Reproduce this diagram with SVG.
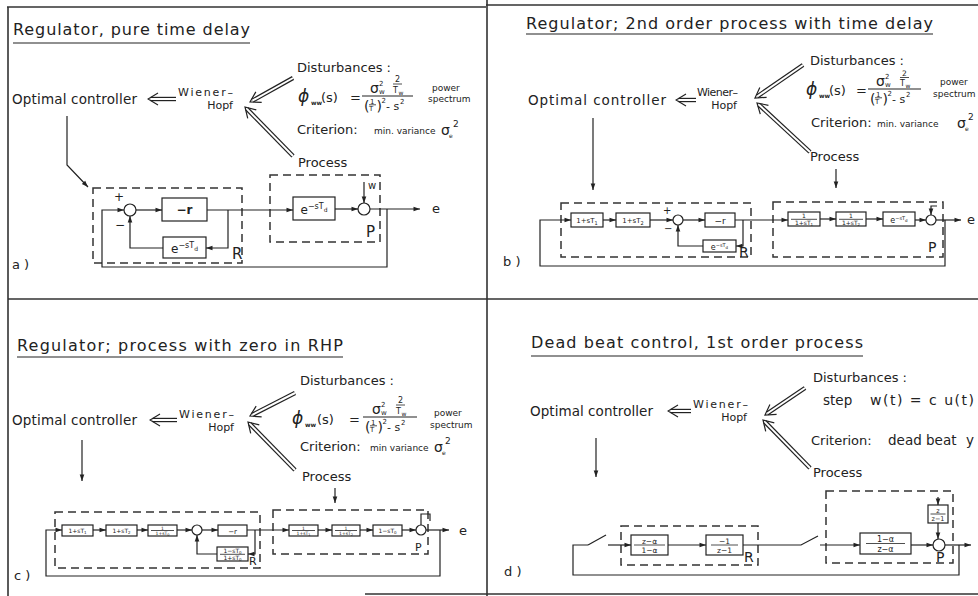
<svg xmlns="http://www.w3.org/2000/svg" width="978" height="596" viewBox="0 0 978 596">
<defs>
<style>
text{font-family:"DejaVu Sans","Liberation Sans",sans-serif;fill:#222}
.ln{stroke:#222;stroke-width:1.2;fill:none}
.thin{stroke:#222;stroke-width:0.8;fill:none}
.cn{stroke:#222;stroke-width:1.2;fill:none;marker-end:url(#ah)}
.dash{stroke:#333;stroke-width:1.5;fill:none;stroke-dasharray:8 5}
.box{stroke:#222;stroke-width:1.2;fill:#fff}
.dbo{stroke:#222;stroke-width:4.4;fill:none;marker-end:url(#open)}
.dbi{stroke:#fff;stroke-width:2;fill:none}
.fr{stroke:#333;stroke-width:1.6;fill:none}
.ttl{font-size:16px}
.lab{font-size:13px}
.oc{font-size:13.5px}
.wh{font-size:11px}
.sm{font-size:9px}
.big{font-size:15px}
.bt{font-size:7px}
.bt6{font-size:6px}
</style>
<marker id="ah" viewBox="-8 -4 9 8" markerWidth="9" markerHeight="8" refX="0" refY="0" orient="auto" markerUnits="userSpaceOnUse"><path d="M0,0 L-6.5,-2.3 L-6.5,2.3 z" fill="#222"/></marker>
<marker id="open" viewBox="-9 -7 13 14" markerWidth="13" markerHeight="14" refX="0" refY="0" orient="auto" markerUnits="userSpaceOnUse"><polyline points="-7.3,-6 2.7,0 -7.3,6" fill="none" stroke="#222" stroke-width="1.2"/></marker>
</defs>
<rect x="0" y="0" width="978" height="596" fill="#fff"/>

<g id="frame">
<path class="fr" d="M7,7 H486 M486,5 H978 M8,7 V596 M487,0 V596 M8,299 H978 M365,594 H978"/>
</g>

<!-- ===== Panel a ===== -->
<g id="a-title"><text class="ttl" x="13" y="35" textLength="237">Regulator, pure time delay</text><line class="ln" x1="13" y1="43" x2="250" y2="43"/></g>
<g id="a-controller"><text class="oc" x="12" y="104" textLength="125">Optimal controller</text></g>
<g id="a-wiener"><text class="wh" x="178" y="96" textLength="55">Wiener–</text><text class="wh" x="233" y="109" text-anchor="end">Hopf</text></g>
<g id="a-disturbances"><text class="lab" x="297" y="72">Disturbances :</text>
<g transform="translate(298,102)">
<text x="0" y="0" font-size="17" font-style="italic">ϕ</text>
<text x="13" y="3" font-size="6" font-weight="bold">ww</text>
<text x="23" y="0" font-size="13">(s)</text>
<text x="52" y="0" font-size="13">=</text>
<line class="ln" x1="64" y1="-6" x2="115" y2="-6"/>
<text x="72" y="-9" font-size="14">σ</text>
<text x="81" y="-16" font-size="7">2</text>
<text x="81" y="-8" font-size="7">w</text>
<text x="97" y="-20" font-size="8">2</text>
<line class="thin" x1="95" y1="-18" x2="104" y2="-18"/>
<text x="95" y="-9" font-size="8">T</text>
<text x="100.5" y="-7.5" font-size="6">w</text>
<text x="66" y="9" font-size="14">(</text>
<text x="72" y="1.5" font-size="7">1</text>
<line class="thin" x1="71" y1="2.8" x2="78" y2="2.8"/>
<text x="71" y="9" font-size="7">T</text>
<text x="78.5" y="9" font-size="14">)</text>
<text x="83.5" y="1" font-size="7">2</text>
<text x="88" y="8" font-size="11">- s</text>
<text x="102" y="2" font-size="7">2</text>
</g>
<text class="sm" x="432" y="91">power</text><text class="sm" x="428" y="102">spectrum</text>
</g>
<g id="a-criterion"><text class="lab" x="297" y="134">Criterion:</text><text class="sm" x="374" y="134">min. variance</text><text x="441" y="135" font-size="14">σ</text><text x="449" y="138" font-size="6">e</text><text x="453" y="127" font-size="9">2</text></g>
<g id="a-process"><text class="lab" x="298" y="167">Process</text></g>
<g id="a-R"><rect class="dash" x="93" y="188" width="149" height="75"/><text class="big" x="232" y="259">R</text></g>
<g id="a-sum1"><circle class="box" cx="130" cy="210" r="6"/><text x="114" y="201" font-size="12">+</text><text x="115" y="229" font-size="12">−</text></g>
<g id="a-gain"><rect class="box" x="162" y="198" width="45" height="23"/><text x="184.5" y="214" text-anchor="middle" font-size="12" font-weight="bold">−r</text></g>
<g id="a-delayR"><rect class="box" x="163" y="237" width="43" height="21"/><text x="184.5" y="253" text-anchor="middle" font-size="12">e<tspan font-size="8" dy="-5">−sT</tspan><tspan font-size="6" dy="3">d</tspan></text></g>
<g id="a-P"><rect class="dash" x="270" y="175" width="110" height="67"/><text class="big" x="366" y="237">P</text></g>
<g id="a-delayP"><rect class="box" x="293" y="197" width="42" height="23"/><text x="314" y="214" text-anchor="middle" font-size="12">e<tspan font-size="8" dy="-5">−sT</tspan><tspan font-size="6" dy="3">d</tspan></text></g>
<g id="a-sum2"><circle class="box" cx="364" cy="209" r="6"/><text x="368" y="189" font-size="10">w</text></g>
<g id="a-out"><text x="432" y="213" font-size="13">e</text></g>
<g id="a-label"><text x="12" y="269" font-size="13">a )</text></g>

<!-- ===== Panel b ===== -->
<g id="b-title"><text class="ttl" x="526" y="29" textLength="407">Regulator; 2nd order process with time delay</text><line class="ln" x1="526" y1="34" x2="933" y2="34"/></g>
<g id="b-controller"><text class="oc" x="528" y="105" textLength="138">Optimal controller</text></g>
<g id="b-wiener"><text class="wh" x="697" y="96" textLength="41">Wiener–</text><text class="wh" x="737" y="109" text-anchor="end">Hopf</text></g>
<g id="b-disturbances"><text class="lab" x="810" y="65">Disturbances :</text>
<g transform="translate(806,95)">
<text x="0" y="0" font-size="17" font-style="italic">ϕ</text>
<text x="13" y="3" font-size="6" font-weight="bold">ww</text>
<text x="23" y="0" font-size="13">(s)</text>
<text x="50" y="0" font-size="13">=</text>
<line class="ln" x1="62" y1="-6" x2="115" y2="-6"/>
<text x="70" y="-9" font-size="14">σ</text>
<text x="79" y="-16" font-size="7">2</text>
<text x="79" y="-8" font-size="7">w</text>
<text x="96" y="-19" font-size="7.5">2</text>
<line class="thin" x1="94" y1="-17.5" x2="103" y2="-17.5"/>
<text x="94" y="-9" font-size="8">T</text>
<text x="99.5" y="-7.5" font-size="6">w</text>
<text x="64" y="9" font-size="14">(</text>
<text x="70" y="1.5" font-size="7">1</text>
<line class="thin" x1="69" y1="2.8" x2="76" y2="2.8"/>
<text x="69" y="9" font-size="7">T</text>
<text x="76.5" y="9" font-size="14">)</text>
<text x="81.5" y="1" font-size="7">2</text>
<text x="86" y="8" font-size="11">- s</text>
<text x="100" y="2" font-size="7">2</text>
</g>
<text class="sm" x="940" y="85">power</text><text class="sm" x="933" y="97">spectrum</text>
</g>
<g id="b-criterion"><text class="lab" x="811" y="127">Criterion:</text><text class="sm" x="877" y="127">min. variance</text><text x="957" y="128" font-size="14">σ</text><text x="965" y="131" font-size="6">e</text><text x="968" y="120" font-size="9">2</text></g>
<g id="b-process"><text class="lab" x="810" y="161">Process</text></g>
<g id="b-R"><rect class="dash" x="561" y="203" width="190" height="54"/><text x="739" y="257" font-size="14">R</text></g>
<g id="b-lead1"><rect class="box" x="571" y="213" width="32" height="14"/><text class="bt" x="587" y="223" text-anchor="middle">1+sT<tspan font-size="5" dy="1.5">1</tspan></text></g>
<g id="b-lead2"><rect class="box" x="616" y="213" width="34" height="14"/><text class="bt" x="633" y="223" text-anchor="middle">1+sT<tspan font-size="5" dy="1.5">2</tspan></text></g>
<g id="b-sum1"><circle class="box" cx="678" cy="220" r="5"/><text x="663" y="214" font-size="10">+</text><text x="664" y="232" font-size="10">−</text></g>
<g id="b-gain"><rect class="box" x="705" y="213" width="30" height="14"/><text x="720" y="224" text-anchor="middle" font-size="9">−r</text></g>
<g id="b-delayR"><rect class="box" x="703" y="240" width="33" height="12"/><text x="719.5" y="249.5" text-anchor="middle" font-size="8">e<tspan font-size="5" dy="-3">−sT</tspan><tspan font-size="4" dy="2">d</tspan></text></g>
<g id="b-P"><rect class="dash" x="773" y="202" width="170" height="55"/><text x="928" y="252" font-size="14">P</text></g>
<g id="b-lag1"><rect class="box" x="788" y="212" width="32" height="14"/><text class="bt6" x="804" y="218" text-anchor="middle">1</text><line class="thin" x1="791" y1="219.3" x2="817" y2="219.3"/><text class="bt6" x="804" y="225" text-anchor="middle">1+sT<tspan font-size="4" dy="1">1</tspan></text></g>
<g id="b-lag2"><rect class="box" x="836" y="212" width="30" height="14"/><text class="bt6" x="851" y="218" text-anchor="middle">1</text><line class="thin" x1="839" y1="219.3" x2="863" y2="219.3"/><text class="bt6" x="851" y="225" text-anchor="middle">1+sT<tspan font-size="4" dy="1">2</tspan></text></g>
<g id="b-delayP"><rect class="box" x="883" y="212" width="32" height="14"/><text x="899" y="222.5" text-anchor="middle" font-size="8">e<tspan font-size="5" dy="-3">−sT</tspan><tspan font-size="4" dy="2">d</tspan></text></g>
<g id="b-sum2"><circle class="box" cx="931" cy="220" r="5"/></g>
<g id="b-out"><text x="967" y="224" font-size="13">e</text></g>
<g id="b-label"><text x="503" y="266" font-size="13">b )</text></g>

<!-- ===== Panel c ===== -->
<g id="c-title"><text class="ttl" x="17" y="351" textLength="326">Regulator; process with zero in RHP</text><line class="ln" x1="17" y1="357" x2="343" y2="357"/></g>
<g id="c-controller"><text class="oc" x="12" y="425" textLength="125">Optimal controller</text></g>
<g id="c-wiener"><text class="wh" x="179" y="418" textLength="55">Wiener–</text><text class="wh" x="234" y="431" text-anchor="end">Hopf</text></g>
<g id="c-disturbances"><text class="lab" x="300" y="385">Disturbances :</text>
<g transform="translate(292,424)">
<text x="0" y="0" font-size="17" font-style="italic">ϕ</text>
<text x="13" y="3" font-size="6" font-weight="bold">ww</text>
<text x="25" y="0" font-size="13">(s)</text>
<text x="57" y="0" font-size="13">=</text>
<line class="ln" x1="71" y1="-7" x2="125" y2="-7"/>
<text x="80" y="-10" font-size="14">σ</text>
<text x="89" y="-17" font-size="7">2</text>
<text x="89" y="-9" font-size="7">w</text>
<text x="106" y="-21" font-size="8">2</text>
<line class="thin" x1="104" y1="-19" x2="113" y2="-19"/>
<text x="104" y="-10" font-size="8">T</text>
<text x="109.5" y="-8.5" font-size="6">w</text>
<text x="73" y="8" font-size="14">(</text>
<text x="79" y="0.5" font-size="7">1</text>
<line class="thin" x1="78" y1="1.8" x2="85" y2="1.8"/>
<text x="78" y="8" font-size="7">T</text>
<text x="85.5" y="8" font-size="14">)</text>
<text x="90.5" y="0" font-size="7">2</text>
<text x="95" y="7" font-size="11">- s</text>
<text x="109" y="1" font-size="7">2</text>
</g>
<text class="sm" x="434" y="416">power</text><text class="sm" x="430" y="428">spectrum</text>
</g>
<g id="c-criterion"><text class="lab" x="300" y="451">Criterion:</text><text class="sm" x="370" y="451">min variance</text><text x="434" y="452" font-size="14">σ</text><text x="442" y="455" font-size="6">e</text><text x="445" y="444" font-size="9">2</text></g>
<g id="c-process"><text class="lab" x="302" y="481">Process</text></g>
<g id="c-R"><rect class="dash" x="55" y="512" width="205" height="56"/><text x="249" y="565" font-size="11">R</text></g>
<g id="c-lead1"><rect class="box" x="62" y="525" width="31" height="11"/><text class="bt6" x="77.5" y="533" text-anchor="middle">1+sT<tspan font-size="4" dy="1">1</tspan></text></g>
<g id="c-lead2"><rect class="box" x="106" y="525" width="31" height="11"/><text class="bt6" x="121.5" y="533" text-anchor="middle">1+sT<tspan font-size="4" dy="1">2</tspan></text></g>
<g id="c-lag0"><rect class="box" x="148" y="525" width="29" height="11"/><text x="162.5" y="529.5" text-anchor="middle" font-size="4.5">1</text><line class="thin" x1="151" y1="530.5" x2="174" y2="530.5"/><text x="162.5" y="535" text-anchor="middle" font-size="4.5">1+sT<tspan font-size="3.5" dy="0.8">0</tspan></text></g>
<g id="c-sum1"><circle class="box" cx="197" cy="530" r="5"/></g>
<g id="c-gain"><rect class="box" x="218" y="525" width="29" height="11"/><text x="232.5" y="533.5" text-anchor="middle" font-size="7">−r</text></g>
<g id="c-allpass"><rect class="box" x="217" y="547" width="31" height="14"/><text class="bt6" x="232.5" y="553" text-anchor="middle">1−sT<tspan font-size="4" dy="1">0</tspan></text><line class="thin" x1="220" y1="554.3" x2="245" y2="554.3"/><text class="bt6" x="232.5" y="560" text-anchor="middle">1+sT<tspan font-size="4" dy="1">0</tspan></text></g>
<g id="c-P"><rect class="dash" x="273" y="510" width="155" height="44"/><text x="415" y="551" font-size="11">P</text></g>
<g id="c-lag1"><rect class="box" x="289" y="525" width="29" height="11"/><text x="303.5" y="529.5" text-anchor="middle" font-size="4.5">1</text><line class="thin" x1="292" y1="530.5" x2="315" y2="530.5"/><text x="303.5" y="535" text-anchor="middle" font-size="4.5">1+sT<tspan font-size="3.5" dy="0.8">1</tspan></text></g>
<g id="c-lag2"><rect class="box" x="332" y="525" width="28" height="11"/><text x="346" y="529.5" text-anchor="middle" font-size="4.5">1</text><line class="thin" x1="335" y1="530.5" x2="357" y2="530.5"/><text x="346" y="535" text-anchor="middle" font-size="4.5">1+sT<tspan font-size="3.5" dy="0.8">2</tspan></text></g>
<g id="c-zero"><rect class="box" x="373" y="525" width="29" height="11"/><text class="bt6" x="387.5" y="533" text-anchor="middle">1−sT<tspan font-size="4" dy="1">0</tspan></text></g>
<g id="c-sum2"><circle class="box" cx="421" cy="530" r="5"/></g>
<g id="c-out"><text x="459" y="535" font-size="13">e</text></g>
<g id="c-label"><text x="14" y="580" font-size="13">c )</text></g>

<!-- ===== Panel d ===== -->
<g id="d-title"><text class="ttl" x="531" y="348" textLength="332">Dead beat control, 1st order process</text><line class="ln" x1="531" y1="356" x2="863" y2="356"/></g>
<g id="d-controller"><text class="oc" x="530" y="416" textLength="123">Optimal controller</text></g>
<g id="d-wiener"><text class="wh" x="693" y="408" textLength="55">Wiener–</text><text class="wh" x="747" y="421" text-anchor="end">Hopf</text></g>
<g id="d-disturbances"><text class="lab" x="813" y="382">Disturbances :</text><text x="823" y="405" font-size="13.5">step</text><text x="870" y="405" font-size="14" textLength="104">w(t) = c u(t)</text></g>
<g id="d-criterion"><text class="lab" x="811" y="445">Criterion:</text><text x="888" y="445" font-size="13.5">dead beat</text><text x="966" y="445" font-size="13.5">y</text></g>
<g id="d-process"><text class="lab" x="813" y="477">Process</text></g>
<g id="d-R"><rect class="dash" x="621" y="526" width="137" height="39"/><text x="744" y="562" font-size="14">R</text></g>
<g id="d-c1"><rect class="box" x="631" y="535" width="37" height="20"/><text x="649.5" y="543.5" text-anchor="middle" font-size="7.5">z−α</text><line class="thin" x1="634" y1="545" x2="665" y2="545"/><text x="649.5" y="553" text-anchor="middle" font-size="7.5">1−α</text></g>
<g id="d-c2"><rect class="box" x="706" y="535" width="37" height="20"/><text x="724.5" y="543.5" text-anchor="middle" font-size="7.5">−1</text><line class="thin" x1="711" y1="545" x2="738" y2="545"/><text x="724.5" y="553" text-anchor="middle" font-size="7.5">z−1</text></g>
<g id="d-P"><rect class="dash" x="826" y="491" width="127" height="72"/><text x="936" y="562" font-size="14">P</text></g>
<g id="d-plant"><rect class="box" x="860" y="533" width="51" height="21"/><text x="885.5" y="542" text-anchor="middle" font-size="8">1−α</text><line class="thin" x1="866" y1="543.5" x2="905" y2="543.5"/><text x="885.5" y="552" text-anchor="middle" font-size="8">z−α</text></g>
<g id="d-dist"><rect class="box" x="928" y="505" width="20" height="18"/><text x="938" y="512.5" text-anchor="middle" font-size="6.5">z</text><line class="thin" x1="930.5" y1="514" x2="945.5" y2="514"/><text x="938" y="521" text-anchor="middle" font-size="6.5">z−1</text></g>
<g id="d-sum"><circle class="box" cx="939" cy="545" r="6"/></g>
<g id="d-label"><text x="504" y="576" font-size="13">d )</text></g>

<!-- ===== Connectors ===== -->
<g id="connectors">
<path class="dbo" d="M176,99 H150.7"/><path class="dbi" d="M176,99 H150.7"/>
<path class="dbo" d="M293,78 L252.4,100.7"/><path class="dbi" d="M293,78 L252.4,100.7"/>
<path class="dbo" d="M293,156 L246.9,108.9"/><path class="dbi" d="M293,156 L246.9,108.9"/>
<path class="dbo" d="M696,100 H678.7"/><path class="dbi" d="M696,100 H678.7"/>
<path class="dbo" d="M803,65 L757.2,96.5"/><path class="dbi" d="M803,65 L757.2,96.5"/>
<path class="dbo" d="M810,152 L759,104.8"/><path class="dbi" d="M810,152 L759,104.8"/>
<path class="dbo" d="M177,420 H152.7"/><path class="dbi" d="M177,420 H152.7"/>
<path class="dbo" d="M295,393 L252.4,414.8"/><path class="dbi" d="M295,393 L252.4,414.8"/>
<path class="dbo" d="M295,470 L249.9,423.9"/><path class="dbi" d="M295,470 L249.9,423.9"/>
<path class="dbo" d="M691,411 H670.7"/><path class="dbi" d="M691,411 H670.7"/>
<path class="dbo" d="M805,388 L767.2,413.5"/><path class="dbi" d="M805,388 L767.2,413.5"/>
<path class="dbo" d="M810,468 L764.9,421.9"/><path class="dbi" d="M810,468 L764.9,421.9"/>

<path class="cn" d="M67,116 V165 L88,187"/>
<path class="cn" d="M136,210 H162"/>
<path class="cn" d="M207,210 H293"/>
<path class="cn" d="M228,210 V248 H206"/>
<path class="cn" d="M163,248 H130 V216"/>
<path class="cn" d="M335,209 H358"/>
<path class="cn" d="M364,182 V203"/>
<path class="cn" d="M370,209 H420"/>
<path class="cn" d="M387,209 V267 H102 V210 H124"/>

<path class="cn" d="M593,118 V190"/>
<path class="cn" d="M836,169 V188"/>
<path class="cn" d="M945,220 V266 H540 V220 H571"/>
<path class="cn" d="M603,220 H616"/>
<path class="cn" d="M650,220 H673"/>
<path class="cn" d="M683,220 H705"/>
<path class="cn" d="M735,220 H788"/>
<path class="cn" d="M743,220 V246 H736"/>
<path class="cn" d="M703,246 H678 V225"/>
<path class="cn" d="M820,219 H836"/>
<path class="cn" d="M866,219 H883"/>
<path class="cn" d="M915,220 H926"/>
<path class="cn" d="M937,206 H931 V215"/>
<path class="cn" d="M936,220 H961"/>

<path class="cn" d="M82,440 V481"/>
<path class="cn" d="M335,488 V503"/>
<path class="cn" d="M440,530 V576 H46 V530 H62"/>
<path class="cn" d="M93,530 H106"/>
<path class="cn" d="M137,530 H148"/>
<path class="cn" d="M177,530 H192"/>
<path class="cn" d="M202,530 H218"/>
<path class="cn" d="M247,530 H289"/>
<path class="cn" d="M255,530 V554 H248"/>
<path class="cn" d="M217,554 H197 V535"/>
<path class="cn" d="M318,530 H332"/>
<path class="cn" d="M360,530 H373"/>
<path class="cn" d="M402,530 H416"/>
<path class="cn" d="M426,530 H449"/>
<path class="ln" d="M421,525 V514 H430 V521"/>

<path class="cn" d="M596,438 V477"/>
<path class="ln" d="M588,545 H573 V575 H959 V545"/>
<path class="ln" d="M588,545 L606,535"/>
<path class="cn" d="M608,545 H631"/>
<path class="cn" d="M668,545 H706"/>
<path class="ln" d="M743,545 H801 L818,536"/>
<path class="cn" d="M820,545 H860"/>
<path class="cn" d="M911,545 H933"/>
<path class="cn" d="M938,497 V505"/>
<path class="cn" d="M938,523 V539"/>
<path class="cn" d="M945,545 H971"/>
</g>
</svg>
